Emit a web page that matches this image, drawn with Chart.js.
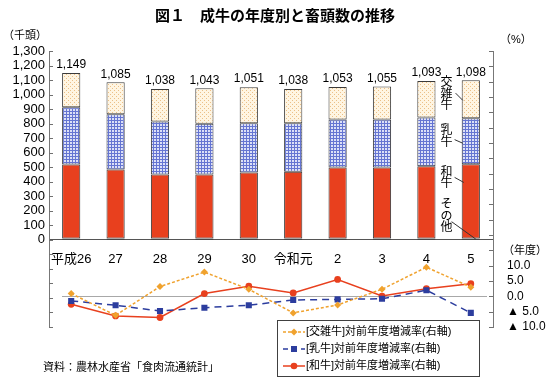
<!DOCTYPE html>
<html lang="ja">
<head>
<meta charset="utf-8">
<script src="https://cdn.jsdelivr.net/npm/chart.js@4/dist/chart.umd.min.js"></script>
<style>
  html, body { margin: 0; padding: 0; background: #fff; }
  #wrap { width: 550px; height: 382px; }
</style>
</head>
<body>
<div id="wrap"><canvas id="cattleChart" width="550" height="382"></canvas></div>
<script>
// 年度
const years = ["平成26", "27", "28", "29", "30", "令和元", "2", "3", "4", "5"]
// 成牛と畜頭数（千頭）
const totals = [1149, 1085, 1038, 1043, 1051, 1038, 1053, 1055, 1093, 1098]
const otherHeads = [10, 10, 10, 10, 10, 10, 10, 10, 10, 10]
const wagyuHeads = [509, 474, 440, 440, 453, 458, 488, 488, 497, 511]
const dairyHeads = [394, 380, 364, 350, 339, 334, 330, 330, 335, 316]
const crossHeads = [236, 221, 224, 243, 249, 236, 225, 227, 251, 261]
// 対前年度増減率（%）
const crossRate = [0.9, -6.2, 3.2, 7.9, 2.3, -5.4, -2.8, 2.3, 9.5, 3.0]
const dairyRate = [-1.5, -2.9, -4.8, -3.7, -2.9, -1.2, -1.0, -0.8, 2.0, -5.4]
const wagyuRate = [-2.6, -6.4, -6.9, 0.9, 3.3, 1.1, 5.5, 0.1, 2.5, 4.1]
// 右軸の目盛
const rightTickValues = [10, 5, 0, -5, -10]
const rightTickLabels = ["10.0", "5.0", "0.0", "▲ 5.0", "▲ 10.0"]

const FONT = "'Liberation Sans', 'Noto Sans CJK JP', sans-serif"
Chart.defaults.font.family = FONT
Chart.defaults.color = "#000"

const canvas = document.getElementById("cattleChart")
const ctx = canvas.getContext("2d")

function makePattern(size, bg, fg, rects) {
  const c = document.createElement("canvas")
  c.width = size
  c.height = size
  const g = c.getContext("2d")
  g.fillStyle = bg
  g.fillRect(0, 0, size, size)
  g.fillStyle = fg
  rects.forEach(r => g.fillRect(r[0], r[1], r[2], r[3]))
  return ctx.createPattern(c, "repeat")
}

const dairyFill = makePattern(3, "#DCE0F7", "#6575D2", [[0, 0, 3, 1], [0, 0, 1, 3]])
const crossFill = makePattern(4, "#FFF5E2", "#EBC088", [[0, 0, 1, 1], [2, 2, 1, 1]])

const RED = "#E8401E"
const BLUE = "#2C3D9E"
const ORANGE = "#F0A22E"
const fmt = new Intl.NumberFormat("en-US")

const barCommon = {
  type: "bar",
  yAxisID: "y",
  stack: "heads",
  borderColor: "#3a3a3a",
  borderWidth: 1,
  borderSkipped: false,
  barPercentage: 0.41,
  categoryPercentage: 1
}

const extras = {
  id: "extras",
  beforeDatasetsDraw(chart) {
    const { ctx, chartArea, scales } = chart
    const y0 = scales.y2.getPixelForValue(0)
    ctx.save()
    ctx.strokeStyle = "#a8a8a8"
    ctx.lineWidth = 1
    ctx.beginPath()
    ctx.moveTo(chartArea.left + 13, Math.round(y0) + 0.5)
    ctx.lineTo(chartArea.right - 6, Math.round(y0) + 0.5)
    ctx.stroke()
    ctx.restore()
  },
  afterDraw(chart) {
    const { ctx, chartArea, scales } = chart
    const x = scales.x, y = scales.y, y2 = scales.y2
    ctx.save()

    // inner tick marks
    ctx.strokeStyle = "#707070"
    ctx.lineWidth = 1
    ctx.beginPath()
    y.ticks.forEach(t => {
      const py = Math.round(y.getPixelForValue(t.value)) + 0.5
      ctx.moveTo(chartArea.left, py)
      ctx.lineTo(chartArea.left + 4, py)
    })
    y2.ticks.forEach(t => {
      const py = Math.round(y2.getPixelForValue(t.value)) + 0.5
      ctx.moveTo(chartArea.right, py)
      ctx.lineTo(chartArea.right - 4, py)
    })
    ctx.stroke()

    // totals on top of bars
    ctx.fillStyle = "#000"
    ctx.font = "12px " + FONT
    ctx.textAlign = "center"
    ctx.textBaseline = "bottom"
    totals.forEach((v, i) => {
      ctx.fillText(fmt.format(v), x.getPixelForValue(i), y.getPixelForValue(v) - 2)
    })

    // unit labels
    ctx.font = "11px " + FONT
    ctx.textAlign = "left"
    ctx.textBaseline = "middle"
    ctx.fillText("（千頭）", 3, 36)
    ctx.fillText("（%）", 500, 40)
    ctx.fillText("（年度）", 503, 251)

    // category names beside the last bar
    const lastX = x.getPixelForValue(years.length - 1)
    const tx = (x.getPixelForValue(years.length - 2) + lastX) / 2 - 2
    const names = [["交雑牛", 1000], ["乳牛", 710], ["和牛", 425], ["その他", 160]]
    ctx.font = "12px " + FONT
    ctx.textAlign = "center"
    names.forEach(([name, v]) => {
      const cy = y.getPixelForValue(v)
      const chars = Array.from(name)
      chars.forEach((ch, k) => {
        ctx.fillText(ch, tx, cy + (k - (chars.length - 1) / 2) * 11.5)
      })
    })
    ctx.strokeStyle = "#333"
    ctx.beginPath()
    const barLeft = lastX - 9
    ctx.moveTo(tx + 9, y.getPixelForValue(1010)); ctx.lineTo(barLeft + 1, y.getPixelForValue(960))
    ctx.moveTo(tx + 8, y.getPixelForValue(690)); ctx.lineTo(barLeft + 1, y.getPixelForValue(665))
    ctx.moveTo(tx + 8, y.getPixelForValue(430)); ctx.lineTo(barLeft + 2, y.getPixelForValue(395))
    ctx.moveTo(tx + 5, y.getPixelForValue(125)); ctx.lineTo(lastX + 5, y.getPixelForValue(5))
    ctx.stroke()

    // legend
    const lx = 277.5, ly = 320.5, lw = 202, lh = 56
    ctx.fillStyle = "#fff"
    ctx.fillRect(lx, ly, lw, lh)
    ctx.strokeStyle = "#404040"
    ctx.strokeRect(lx, ly, lw, lh)
    const rows = [
      ["[交雑牛]対前年度増減率(右軸)", ORANGE, [3, 2], "diamond"],
      ["[乳牛]対前年度増減率(右軸)", BLUE, [5, 4], "square"],
      ["[和牛]対前年度増減率(右軸)", RED, [], "circle"]
    ]
    rows.forEach(([label, color, dash, shape], k) => {
      const ry = 332 + k * 17
      ctx.strokeStyle = color
      ctx.lineWidth = 1.5
      ctx.setLineDash(dash)
      ctx.beginPath()
      ctx.moveTo(283, ry)
      ctx.lineTo(305, ry)
      ctx.stroke()
      ctx.setLineDash([])
      ctx.fillStyle = color
      ctx.beginPath()
      if (shape === "diamond") {
        ctx.moveTo(294, ry - 3.5); ctx.lineTo(297.5, ry); ctx.lineTo(294, ry + 3.5); ctx.lineTo(290.5, ry)
      } else if (shape === "square") {
        ctx.rect(291, ry - 3, 6, 6)
      } else {
        ctx.arc(294, ry, 3.3, 0, Math.PI * 2)
      }
      ctx.fill()
      ctx.fillStyle = "#000"
      ctx.font = "11px " + FONT
      ctx.textAlign = "left"
      ctx.textBaseline = "middle"
      ctx.fillText(label, 306, ry)
    })

    // source
    ctx.font = "11px " + FONT
    ctx.fillText("資料：農林水産省「食肉流通統計」", 43, 368)
    ctx.restore()
  }
}

new Chart(ctx, {
  type: "bar",
  data: {
    labels: years,
    datasets: [
      { ...barCommon, label: "その他", data: otherHeads, backgroundColor: "#1E2062" },
      { ...barCommon, label: "和牛", data: wagyuHeads, backgroundColor: RED },
      { ...barCommon, label: "乳牛", data: dairyHeads, backgroundColor: dairyFill },
      { ...barCommon, label: "交雑牛", data: crossHeads, backgroundColor: crossFill },
      {
        type: "line", label: "[交雑牛]対前年度増減率(右軸)", data: crossRate, yAxisID: "y2",
        borderColor: ORANGE, backgroundColor: ORANGE, borderWidth: 1.5, borderDash: [3, 2],
        pointStyle: "rectRot", pointRadius: 3.5, pointBorderWidth: 0, tension: 0
      },
      {
        type: "line", label: "[乳牛]対前年度増減率(右軸)", data: dairyRate, yAxisID: "y2",
        borderColor: BLUE, backgroundColor: BLUE, borderWidth: 1.5, borderDash: [7, 5],
        pointStyle: "rect", pointRadius: 4.3, pointBorderWidth: 0, tension: 0
      },
      {
        type: "line", label: "[和牛]対前年度増減率(右軸)", data: wagyuRate, yAxisID: "y2",
        borderColor: RED, backgroundColor: RED, borderWidth: 1.5,
        pointStyle: "circle", pointRadius: 3.4, pointBorderWidth: 0, tension: 0
      }
    ]
  },
  options: {
    responsive: false,
    animation: false,
    devicePixelRatio: 1,
    layout: { padding: { left: 0, right: 0, top: 0, bottom: 55 } },
    plugins: {
      legend: { display: false },
      tooltip: { enabled: false },
      title: {
        display: true,
        text: "図１　成牛の年度別と畜頭数の推移",
        font: { size: 15, weight: "bold" },
        color: "#000",
        padding: { top: 8, bottom: 25 }
      }
    },
    scales: {
      x: {
        stacked: true,
        position: { y: 0 },
        grid: { display: false },
        border: { display: true, color: "#555", width: 1 },
        ticks: { font: { size: 13 }, padding: 4, maxRotation: 0, autoSkip: false }
      },
      y: {
        stacked: true,
        position: "left",
        min: -600,
        max: 1300,
        grid: { display: false, drawTicks: false },
        border: { display: true, color: "#777", width: 1 },
        ticks: {
          stepSize: 100,
          autoSkip: false,
          padding: 4,
          font: { size: 13 },
          callback: v => (v >= 0 ? fmt.format(v) : "")
        },
        afterFit(scale) { scale.width = 49 }
      },
      y2: {
        position: "right",
        min: -10,
        max: 80,
        grid: { display: false, drawTicks: false },
        border: { display: true, color: "#777", width: 1 },
        ticks: {
          stepSize: 5,
          autoSkip: false,
          padding: 14,
          font: { size: 12 },
          callback: v => {
            const k = rightTickValues.indexOf(v)
            return k >= 0 ? rightTickLabels[k] : ""
          }
        },
        afterFit(scale) { scale.width = 57 }
      }
    }
  },
  plugins: [extras]
})
</script>
</body>
</html>
